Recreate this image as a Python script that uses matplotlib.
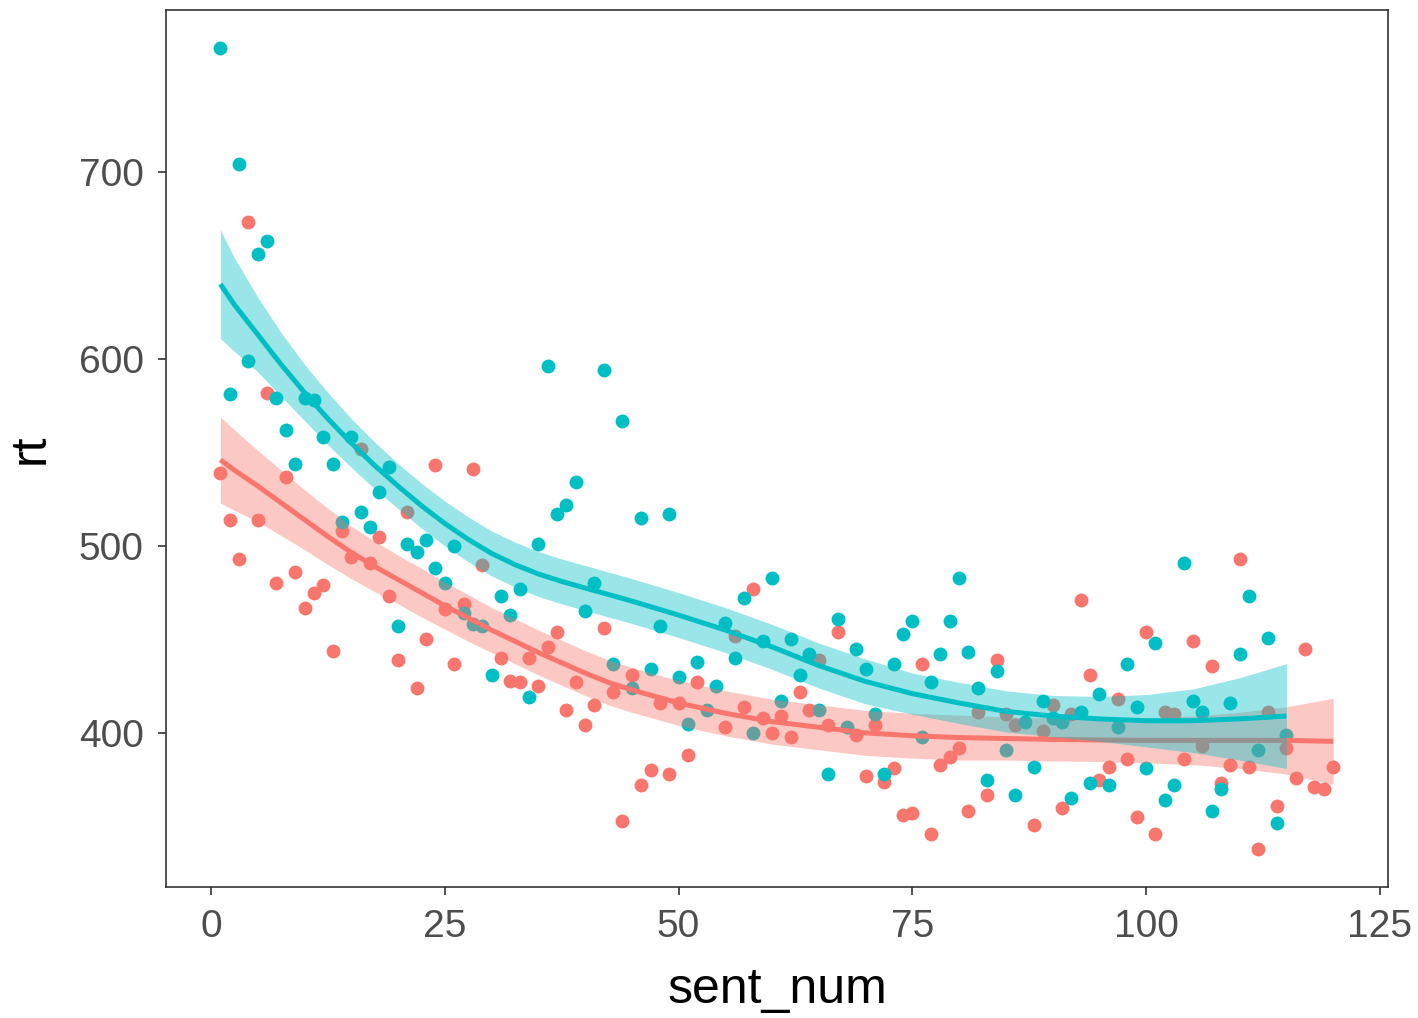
import matplotlib
matplotlib.use("Agg")
import matplotlib.pyplot as plt

# colours (ggplot defaults for two groups)
RED = "#F8766D"
TEAL = "#00BFC4"

# ---- raw points: sent_num / rt per group ----
red_x = [1, 2, 3, 4, 5, 6, 7, 8, 9, 10, 11, 12, 13, 14, 15, 16, 17, 18, 19, 20,
         21, 22, 23, 24, 25, 26, 27, 28, 29, 31, 32, 33, 34, 35, 36, 37, 38, 39, 40,
         41, 42, 43, 44, 45, 46, 47, 48, 49, 50, 51, 52, 55, 56, 57, 58, 59, 60,
         61, 62, 63, 64, 65, 66, 67, 69, 70, 71, 72, 73, 74, 75, 76, 77, 78, 79, 80,
         81, 82, 83, 84, 85, 86, 88, 89, 90, 91, 92, 93, 94, 95, 96, 97, 98, 99, 100,
         101, 102, 103, 104, 105, 106, 107, 108, 109, 110, 111, 112, 113, 114, 115,
         116, 117, 118, 119, 120]
red_rt = [539, 514, 493, 673, 514, 582, 480, 537, 486, 467, 475, 479, 444, 508, 494, 552, 491, 505, 473, 439,
          518, 424, 450, 543, 466, 437, 469, 541, 490, 440, 428, 427, 440, 425, 446, 454, 412, 427, 404,
          415, 456, 422, 353, 431, 372, 380, 416, 378, 416, 388, 427, 403, 452, 414, 477, 408, 400,
          409, 398, 422, 412, 439, 404, 454, 399, 377, 404, 374, 381, 356, 357, 437, 346, 383, 387, 392,
          358, 411, 367, 439, 410, 404, 351, 401, 415, 360, 410, 471, 431, 375, 382, 418, 386, 355, 454,
          346, 411, 410, 386, 449, 393, 436, 373, 383, 493, 382, 338, 411, 361, 392,
          376, 445, 371, 370, 382]

teal_x = list(range(1, 116))
teal_rt = [766, 581, 704, 599, 656, 663, 579, 562, 544, 579, 578, 558, 544, 513, 558, 518, 510, 529, 542, 457,
           501, 497, 503, 488, 480, 500, 464, 458, 457, 431, 473, 463, 477, 419, 501, 596, 517, 522, 534, 465,
           480, 594, 437, 567, 424, 515, 434, 457, 517, 430, 405, 438, 412, 425, 459, 440, 472, 400, 449, 483,
           417, 450, 431, 442, 412, 378, 461, 403, 445, 434, 410, 378, 437, 453, 460, 398, 427, 442, 460, 483,
           443, 424, 375, 433, 391, 367, 406, 382, 417, 408, 406, 365, 411, 373, 421, 372, 403, 437, 414, 381,
           448, 364, 372, 491, 417, 411, 358, 370, 416, 442, 473, 391, 451, 352, 399]

# ---- smoother (fit and CI half-width) ----
red_sx = [1, 2.5, 5, 7.5, 10, 12.5, 15, 17.5, 20, 22.5, 25, 27.5, 30, 32.5, 35, 37.5, 40, 42.5, 45,
          50, 55, 60, 65, 70, 75, 80, 85, 90, 95, 100, 105, 110, 115, 120]
red_fit = [546, 540.5, 532, 523, 514, 505, 496.5, 489, 482, 475, 468, 461.5, 455, 449, 443, 437.5, 432, 427, 423,
           416, 410.5, 406, 403, 400, 398.5, 397.5, 397, 396.5, 396.2, 396, 396, 396, 396, 395.5]
red_se = [23, 21.5, 19, 17.5, 16, 15, 14, 13.5, 13, 13, 12.5, 12.5, 12, 12, 12, 12, 12, 12, 12,
          12, 12, 12, 12, 12, 12, 12, 11.5, 11.5, 11.5, 12, 13, 15, 18, 23]

teal_sx = [1, 2.5, 5, 7.5, 10, 12.5, 15, 17.5, 20, 22.5, 25, 27.5, 30, 32.5, 35, 37.5, 40, 42.5, 45,
           50, 55, 60, 65, 70, 75, 80, 85, 90, 95, 100, 105, 110, 115]
teal_fit = [640, 629, 613, 597, 582, 568, 555, 543, 532, 521.5, 512, 503.5, 496, 490, 485, 481, 477.5, 474, 470.5,
            463, 455, 446, 436, 427.5, 421, 416, 411.5, 409, 407.5, 406.5, 406.5, 407.5, 409]
teal_se = [29, 25, 20, 17, 15, 14, 13, 12.5, 12, 12, 12, 12, 12, 12, 12, 12, 12, 12, 12,
           12, 12, 12, 12, 12, 11, 11, 11, 11, 12, 14, 17, 22, 28]

xticks = [0, 25, 50, 75, 100, 125]
yticks = [400, 500, 600, 700]

fig = plt.figure(figsize=(14.18, 10.18), dpi=100)
ax = fig.add_axes([0.1171, 0.1287, 0.8617, 0.8615])

ax.scatter(red_x, red_rt, s=100, color=RED, linewidths=0, zorder=2)
ax.scatter(teal_x, teal_rt, s=100, color=TEAL, linewidths=0, zorder=2)

# ribbon then line, red group first, as ggplot draws them
for sx, fit, se, col, z in [(red_sx, red_fit, red_se, RED, 3), (teal_sx, teal_fit, teal_se, TEAL, 5)]:
    lo = [f - s for f, s in zip(fit, se)]
    hi = [f + s for f, s in zip(fit, se)]
    ax.fill_between(sx, lo, hi, color=col, alpha=0.4, linewidth=0, zorder=z)
    ax.plot(sx, fit, color=col, linewidth=3.6, solid_capstyle="butt",
            solid_joinstyle="round", zorder=z + 1)

ax.set_xlim(-4.81, 125.86)
ax.set_ylim(317.6, 786.6)
ax.set_xticks(xticks)
ax.set_yticks(yticks)

for sp in ax.spines.values():
    sp.set_color("#333333")
    sp.set_linewidth(1.2)

ax.tick_params(axis="both", length=6, width=1.2, color="#333333",
               labelsize=28, labelcolor="#4D4D4D", pad=10)
for lab in ax.get_xticklabels() + ax.get_yticklabels():
    lab.set_family("Liberation Sans")

ax.set_xlabel("sent_num", fontsize=36, family="Liberation Sans", labelpad=16)
ax.set_ylabel("rt", fontsize=36, family="Liberation Sans", labelpad=18)

fig.savefig("out.png", dpi=100)
